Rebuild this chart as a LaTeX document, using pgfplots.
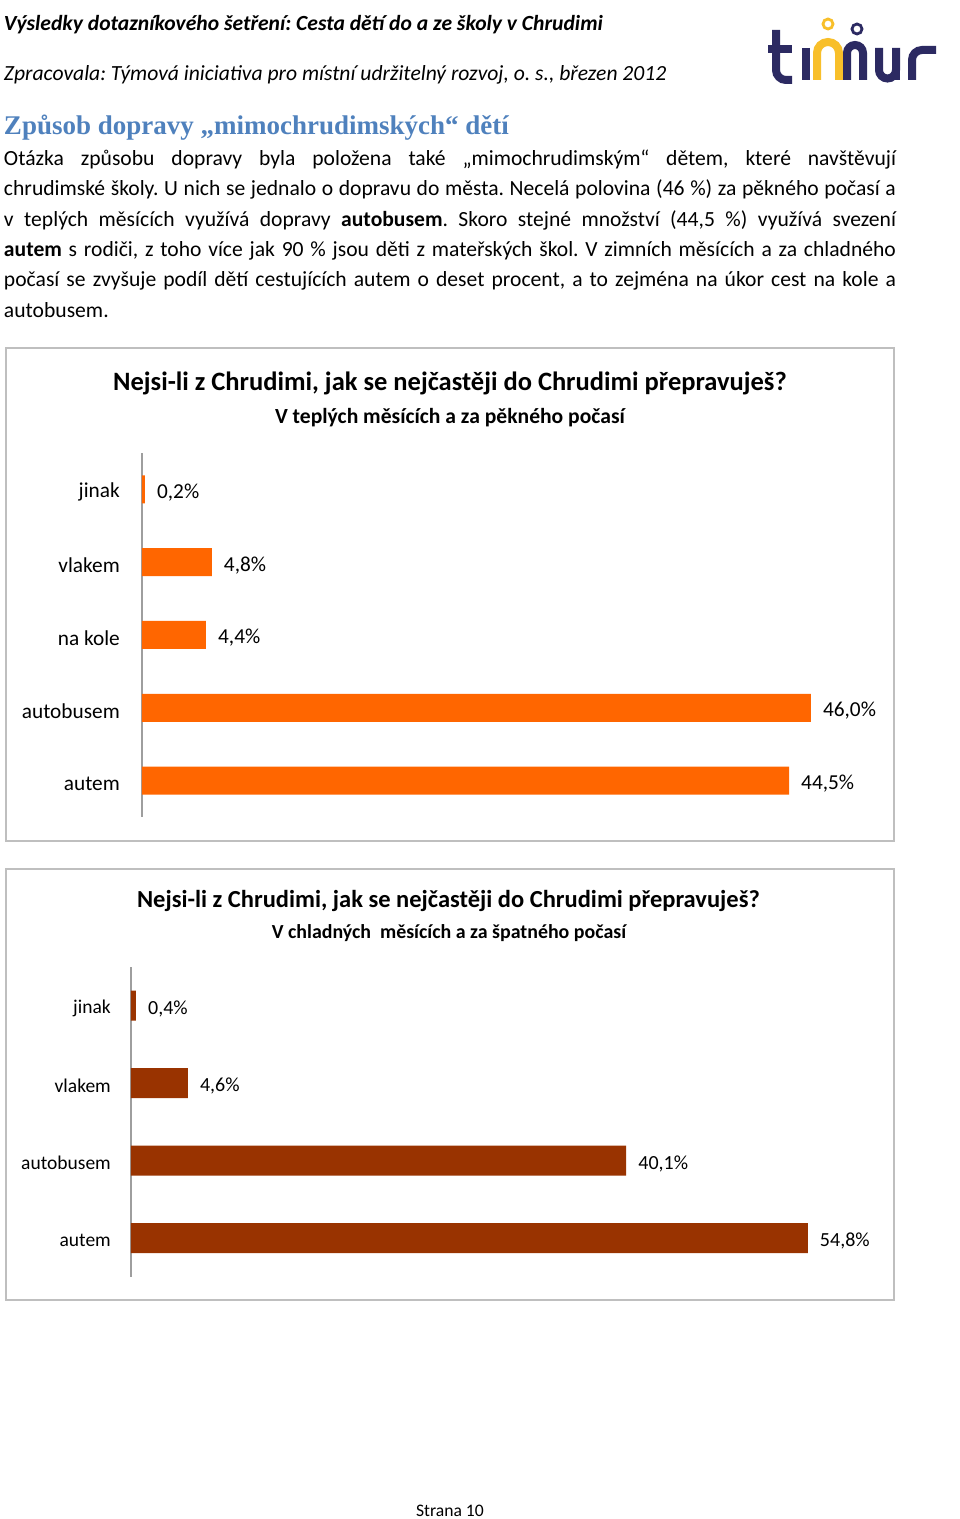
\documentclass[border=0pt]{standalone}
\usepackage{pgfplots}
\pgfplotsset{compat=1.18}
\usepackage{fontspec}
\setmainfont{Carlito}
\newfontfamily\headfont{Liberation Serif}
\definecolor{orangebar}{HTML}{FF6600}
\definecolor{brownbar}{HTML}{993300}
\definecolor{headblue}{HTML}{4F81BD}
\definecolor{logonavy}{HTML}{2C2A62}
\definecolor{logoyellow}{HTML}{F8BF2A}
\definecolor{framegray}{HTML}{BFBFBF}
\definecolor{axisgray}{HTML}{9E9E9E}
\newcommand\fs[2]{\fontsize{#1pt}{#2pt}\selectfont}
\frenchspacing
\begin{document}
\frenchspacing
\begin{tikzpicture}[x=1pt,y=1pt]
\path[fill=white] (0,0) rectangle (960,1519);
\begin{scope}[shift={(0,1519)}, yscale=-1, every node/.style={inner sep=0pt, outer sep=0pt}]
% header
\node[anchor=base west] at (4,31) {\fs{21.6}{25}\bfseries\itshape Výsledky dotazníkového šetření: Cesta dětí do a ze školy v Chrudimi};
\node[anchor=base west] at (4,81) {\fs{21.6}{25}\itshape Zpracovala: Týmová iniciativa pro místní udržitelný rozvoj, o. s., březen 2012};
% logo
\draw[logonavy, line width=8pt] (776,30) -- (776,70) arc[start angle=180,end angle=90,radius=10] -- (792,80);
\draw[logonavy, line width=8pt] (768,49) -- (792,49);
\draw[logonavy, line width=8pt] (806,48) -- (806,80);
\draw[logoyellow, line width=8pt] (817,80) -- (817,53) arc[start angle=180,end angle=360,radius=11] -- (839,80);
\draw[logonavy, line width=8pt] (847,80) -- (847,53) arc[start angle=180,end angle=360,radius=8] -- (863,80);
\draw[logoyellow, line width=2.8pt] (828,24) circle[radius=5];
\draw[logonavy, line width=2.8pt] (857,29) circle[radius=5];
\draw[logonavy, line width=8pt] (879,48) -- (879,70) arc[start angle=180,end angle=0,radius=8.5] -- (896,48);
\draw[logonavy, line width=8pt] (896,60) -- (896,80);
\draw[logonavy, line width=8pt] (912,80) -- (912,60) arc[start angle=180,end angle=270,radius=10] -- (936,50);
% heading
\node[anchor=base west] at (4,135) {\headfont\bfseries\color{headblue}\fs{27}{30}Způsob dopravy „mimochrudimských“ dětí};
% paragraph
\node[anchor=base west] at (4,165.5) {\fs{21.6}{30}\makebox[892pt][s]{Otázka způsobu dopravy byla položena také „mimochrudimským“ dětem, které navštěvují}};
\node[anchor=base west] at (4,196) {\fs{21.6}{30}\makebox[892pt][s]{chrudimské školy. U nich se jednalo o dopravu do města. Necelá polovina (46 \%) za pěkného počasí a}};
\node[anchor=base west] at (4,226.5) {\fs{21.6}{30}\makebox[892pt][s]{v teplých měsících využívá dopravy \textbf{autobusem}. Skoro stejné množství (44,5 \%) využívá svezení}};
\node[anchor=base west] at (4,256.5) {\fs{21.6}{30}\makebox[892pt][s]{\textbf{autem} s rodiči, z toho více jak 90 \% jsou děti z mateřských škol. V zimních měsících a za chladného}};
\node[anchor=base west] at (4,287) {\fs{21.6}{30}\makebox[892pt][s]{počasí se zvyšuje podíl dětí cestujících autem o deset procent, a to zejména na úkor cest na kole a}};
\node[anchor=base west] at (4,317.5) {\fs{21.6}{30}autobusem.};
% frames
\draw[framegray, line width=2pt] (6,348) rectangle (894,841);
\draw[framegray, line width=2pt] (6,869) rectangle (894,1300);
% chart titles
\node[anchor=base] at (450,391) {\fs{26.5}{30}\bfseries Nejsi-li z Chrudimi, jak se nejčastěji do Chrudimi přepravuješ?};
\node[anchor=base] at (450,424) {\fs{21.6}{25}\bfseries V teplých měsících a za pěkného počasí};
\node[anchor=base] at (448.5,908) {\fs{24.5}{28}\bfseries Nejsi-li z Chrudimi, jak se nejčastěji do Chrudimi přepravuješ?};
\node[anchor=base] at (449,938.5) {\fs{19.9}{23}\bfseries V chladných\ \ měsících a za špatného počasí};
% footer
\node[anchor=base] at (450,1516.5) {\fs{17.6}{20}Strana 10};
\end{scope}

\begin{axis}[
  at={(142pt,702pt)}, anchor=south west,
  scale only axis, width=727pt, height=364pt,
  xbar, bar width=28pt,
  xmin=0, xmax=50, ymin=-0.5, ymax=4.5,
  axis x line=none, axis y line*=left,
  y axis line style={draw=axisgray, line width=2.7pt},
  ytick={0,1,2,3,4}, yticklabels={autem,autobusem,na kole,vlakem,jinak},
  major tick length=0pt,
  yticklabel style={font=\fs{21.3}{24}, anchor=east, inner sep=0pt, xshift=-22pt, yshift=-3pt},
  point meta=x,
  nodes near coords={\pgfmathprintnumber[fixed,fixed zerofill,precision=1,use comma,assume math mode=true]{\pgfplotspointmeta}\%},
  nodes near coords style={font=\fs{21.3}{24}, anchor=west, inner sep=0pt, xshift=12pt, yshift=-3pt},
  clip=false,
]
\addplot[fill=orangebar, draw=none] coordinates {(44.5,0) (46.0,1) (4.4,2) (4.8,3) (0.2,4)};
\end{axis}

\begin{axis}[
  at={(131pt,242pt)}, anchor=south west,
  scale only axis, width=741pt, height=310pt,
  xbar, bar width=30pt,
  xmin=0, xmax=60, ymin=-0.5, ymax=3.5,
  axis x line=none, axis y line*=left,
  y axis line style={draw=axisgray, line width=2.7pt},
  ytick={0,1,2,3}, yticklabels={autem,autobusem,vlakem,jinak},
  major tick length=0pt,
  yticklabel style={font=\fs{19.5}{22}, anchor=east, inner sep=0pt, xshift=-20pt, yshift=-2.5pt},
  point meta=x,
  nodes near coords={\pgfmathprintnumber[fixed,fixed zerofill,precision=1,use comma,assume math mode=true]{\pgfplotspointmeta}\%},
  nodes near coords style={font=\fs{20}{22}, anchor=west, inner sep=0pt, xshift=12pt, yshift=-3pt},
  clip=false,
]
\addplot[fill=brownbar, draw=none] coordinates {(54.8,0) (40.1,1) (4.6,2) (0.4,3)};
\end{axis}
\end{tikzpicture}
\end{document}
